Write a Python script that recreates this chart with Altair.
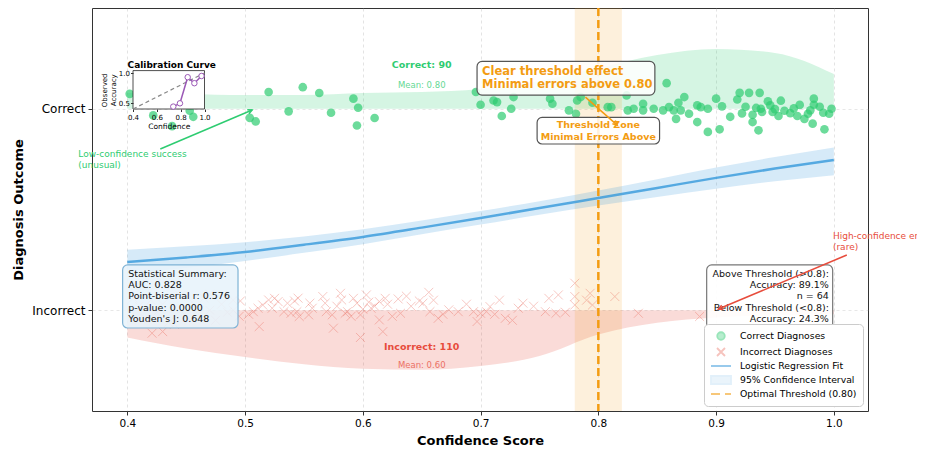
import altair as alt
import pandas as pd

# ---------------- data ----------------
correct_conf = [0.402, 0.422, 0.438, 0.453, 0.456, 0.504, 0.509, 0.520, 0.537, 0.549,
                0.563, 0.573, 0.592, 0.596, 0.595, 0.610, 0.696, 0.711, 0.714, 0.728,
                0.718, 0.726, 0.759, 0.761, 0.775, 0.782, 0.785, 0.781, 0.808, 0.811,
                0.824, 0.825, 0.830, 0.838, 0.838, 0.858, 0.855, 0.860, 0.864, 0.866,
                0.870, 0.873, 0.884, 0.887, 0.884, 0.893, 0.893, 0.900, 0.903, 0.918,
                0.920, 0.928, 0.937, 0.922, 0.931, 0.931, 0.936, 0.934, 0.938, 0.939,
                0.944, 0.946, 0.950, 0.948, 0.953, 0.958, 0.963, 0.966, 0.971, 0.969,
                0.978, 0.980, 0.983, 0.983, 0.982, 0.991, 0.992, 0.996, 0.847, 0.877,
                0.905, 0.912, 0.955, 0.975, 0.988, 0.998, 0.700, 0.795, 0.868, 0.925]
correct_jit = [1.074, 0.967, 0.914, 0.990, 0.960, 0.955, 0.937, 1.083, 0.987, 1.107,
               1.078, 0.980, 1.050, 1.005, 0.917, 0.954, 1.083, 1.041, 1.033, 1.058,
               0.964, 1.000, 1.050, 1.025, 0.992, 1.041, 1.058, 0.975, 1.008, 1.008,
               1.066, 0.992, 1.000, 1.025, 0.992, 1.127, 0.992, 1.008, 0.992, 0.950,
               0.992, 1.058, 1.017, 1.008, 0.934, 1.000, 0.885, 1.050, 0.898, 1.046,
               1.079, 1.079, 1.079, 0.977, 0.970, 0.934, 0.893, 1.004, 1.000, 0.984,
               1.037, 1.017, 0.998, 0.984, 0.964, 0.990, 0.978, 1.002, 1.019, 0.964,
               0.975, 0.992, 1.020, 1.050, 0.926, 0.980, 0.898, 0.975, 1.000, 0.975,
               1.012, 0.960, 1.040, 0.950, 1.010, 1.000, 1.020, 1.030, 1.030, 1.010]

incorrect_conf = [0.421, 0.430, 0.496, 0.503, 0.507, 0.511, 0.512, 0.515, 0.520, 0.525,
                  0.528, 0.533, 0.536, 0.542, 0.544, 0.546, 0.554, 0.555, 0.566, 0.568,
                  0.569, 0.574, 0.575, 0.581, 0.582, 0.585, 0.587, 0.592, 0.595, 0.598,
                  0.598, 0.603, 0.605, 0.607, 0.614, 0.617, 0.614, 0.619, 0.621, 0.630,
                  0.632, 0.648, 0.651, 0.656, 0.657, 0.664, 0.673, 0.681, 0.694, 0.697,
                  0.700, 0.705, 0.708, 0.721, 0.736, 0.732, 0.755, 0.764, 0.758, 0.766,
                  0.780, 0.780, 0.780, 0.793, 0.795, 0.814, 0.834, 0.886, 0.410, 0.415,
                  0.420, 0.425, 0.430, 0.435, 0.440, 0.445, 0.450, 0.455, 0.460, 0.465,
                  0.470, 0.475, 0.480, 0.485, 0.490, 0.495, 0.440, 0.470, 0.405, 0.490,
                  0.523, 0.539, 0.557, 0.578, 0.590, 0.610, 0.625, 0.641, 0.660, 0.668,
                  0.688, 0.712, 0.716, 0.745, 0.772, 0.790, 0.545, 0.600, 0.637, 0.727]
incorrect_jit = [-0.114, -0.106, 0.046, -0.020, -0.007, 0.010, -0.081, 0.026, 0.051, 0.059,
                 0.043, -0.007, 0.035, 0.046, -0.007, -0.031, -0.023, 0.035, 0.068, 0.035,
                 -0.007, -0.023, -0.089, 0.084, 0.051, -0.015, -0.007, 0.059, 0.035, -0.023,
                 -0.135, 0.076, 0.040, 0.010, -0.048, -0.106, 0.043, 0.059, 0.030, 0.056,
                 -0.015, 0.046, 0.035, 0.089, -0.007, -0.040, 0.002, -0.007, -0.007, -0.056,
                 -0.015, -0.007, 0.018, -0.040, 0.035, 0.010, -0.007, -0.015, 0.059, 0.076,
                 0.134, 0.068, 0.026, 0.084, 0.026, 0.068, -0.015, -0.031, 0.020, -0.040,
                 0.050, -0.010, 0.030, -0.060, 0.010, 0.070, -0.030, 0.040, -0.020, 0.060,
                 0.000, -0.050, 0.030, -0.010, 0.050, -0.030, -0.070, 0.080, 0.060, 0.000,
                 0.010, -0.015, 0.010, 0.020, -0.030, 0.020, -0.030, 0.020, 0.050, -0.020,
                 0.030, -0.020, 0.050, 0.020, -0.010, 0.050, 0.060, 0.005, 0.070, -0.050]

curve_conf = [0.40, 0.45, 0.50, 0.55, 0.60, 0.65, 0.70, 0.75, 0.80, 0.85, 0.90, 0.95, 1.00]
fit_prob = [0.239, 0.262, 0.289, 0.325, 0.364, 0.410, 0.458, 0.507, 0.557, 0.607, 0.657, 0.703, 0.746]
ci_lower = [0.180, 0.210, 0.245, 0.285, 0.328, 0.377, 0.425, 0.474, 0.520, 0.562, 0.603, 0.640, 0.670]
ci_upper = [0.300, 0.318, 0.338, 0.366, 0.402, 0.445, 0.492, 0.541, 0.594, 0.650, 0.708, 0.760, 0.808]
correct_density = [0.078, 0.073, 0.068, 0.068, 0.078, 0.083, 0.098, 0.138, 0.202, 0.267, 0.297, 0.277, 0.172]
incorrect_density = [0.135, 0.190, 0.232, 0.268, 0.290, 0.295, 0.277, 0.227, 0.120, 0.062, 0.036, 0.025, 0.020]

calib_conf = [0.738, 0.794, 0.859, 0.915, 0.975]
calib_acc = [0.44, 0.495, 0.93, 0.83, 0.95]

threshold = 0.80
threshold_zone = [0.78, 0.82]
x_ticks = [0.4, 0.5, 0.6, 0.7, 0.8, 0.9, 1.0]

legend_labels = ["Correct Diagnoses", "Incorrect Diagnoses", "Logistic Regression Fit",
                 "95% Confidence Interval", "Optimal Threshold (0.80)"]
stats_lines = ["Statistical Summary:", "AUC: 0.828", "Point-biserial r: 0.576",
               "p-value: 0.0000", "Youden's J: 0.648"]
threshold_lines = ["Above Threshold (>0.8):", "Accuracy: 89.1%", "n = 64", "",
                   "Below Threshold (<0.8):", "Accuracy: 24.3%", "n = 136"]

# ---------------- colours ----------------
GREEN = "#2ecc71"
RED = "#e74c3c"
BLUE = "#3498db"
ORANGE = "#f39c12"
PURPLE = "#9b59b6"
FONT = "DejaVu Sans"

W, H = 776, 403

xs = alt.Scale(domain=[0.37, 1.029], nice=False, zero=False)
ys = alt.Scale(domain=[-0.5, 1.5], nice=False, zero=False)

x_axis = alt.Axis(values=x_ticks, format=".1f", title="Confidence Score", titleFontSize=13,
                  titleFontWeight="bold", labelFontSize=10.5, grid=True, gridColor="#b0b0b0",
                  gridOpacity=0.35, gridDash=[3, 3], tickSize=4, domain=False,
                  labelFlush=False, titlePadding=6, labelPadding=3)
y_axis = alt.Axis(values=[0, 1], labelExpr="datum.value == 1 ? 'Correct' : 'Incorrect'",
                  title="Diagnosis Outcome", titleFontSize=13, titleFontWeight="bold",
                  labelFontSize=12, grid=True, gridColor="#b0b0b0", gridOpacity=0.3,
                  gridDash=[3, 3], tickSize=4, domain=False, titleX=-67, titleY=H / 2,
                  labelPadding=3)


def X(f):
    return alt.X(f, type="quantitative", scale=xs, axis=x_axis)


def Y(f):
    return alt.Y(f, type="quantitative", scale=ys, axis=y_axis)


# ---------------- tables ----------------
curve_df = pd.DataFrame({"conf": curve_conf, "p": fit_prob, "lo": ci_lower, "hi": ci_upper,
                         "cd": correct_density, "icd": incorrect_density})
correct_df = pd.DataFrame({"conf": correct_conf, "y": correct_jit})
incorrect_df = pd.DataFrame({"conf": incorrect_conf, "y": incorrect_jit})
thr_df = pd.DataFrame({"x0": [threshold_zone[0]], "x1": [threshold_zone[1]], "t": [threshold]})

green_area = alt.Chart(curve_df).transform_calculate(base="1", top="1 + datum.cd").mark_area(
    color=GREEN, opacity=0.2, interpolate="monotone").encode(x=X("conf"), y=Y("base:Q"), y2="top:Q")
red_area = alt.Chart(curve_df).transform_calculate(base="0", bot="-datum.icd").mark_area(
    color=RED, opacity=0.2, interpolate="monotone").encode(x=X("conf"), y=Y("bot:Q"), y2="base:Q")

band = alt.Chart(thr_df).mark_rect(color=ORANGE, opacity=0.15).encode(x=X("x0"), x2="x1")
ci = alt.Chart(curve_df).mark_area(color=BLUE, opacity=0.2, interpolate="monotone").encode(
    x=X("conf"), y=Y("lo"), y2="hi")
fit = alt.Chart(curve_df).mark_line(color=BLUE, strokeWidth=2.5, opacity=0.8,
                                    interpolate="monotone").encode(x=X("conf"), y=Y("p"))

X_PATH = "M-1,-1L1,1M-1,1L1,-1"
green_pts = alt.Chart(correct_df).mark_circle(color=GREEN, opacity=0.7, size=75).encode(
    x=X("conf"), y=Y("y"))
red_pts = alt.Chart(incorrect_df).mark_point(shape=X_PATH, filled=False, color=RED, opacity=0.3,
                                             size=80, strokeWidth=1).encode(x=X("conf"), y=Y("y"))

thr_rule = alt.Chart(thr_df).mark_rule(color=ORANGE, strokeWidth=2.5, strokeDash=[8, 4]).encode(
    x=X("t"))

# ---------------- annotations ----------------
boxes_stats = pd.DataFrame({"x0": [0.396], "x1": [0.494], "y0": [-0.088], "y1": [0.225]})
boxes_thr = pd.DataFrame({"x0": [0.892], "x1": [0.999], "y0": [-0.197], "y1": [0.225]})
boxes_clear = pd.DataFrame({"x0": [0.697], "x1": [0.848], "y0": [1.068], "y1": [1.235]})
boxes_zone = pd.DataFrame({"x0": [0.748], "x1": [0.852], "y0": [0.825], "y1": [0.957]})


def box(df, fill, stroke, op=0.9):
    return alt.Chart(df).mark_rect(fill=fill, stroke=stroke, strokeWidth=1.2, cornerRadius=5,
                                   fillOpacity=op).encode(x=X("x0"), x2="x1", y=Y("y0"), y2="y1")


def text(df, **kw):
    base = dict(font=FONT, lineBreak="\n")
    base.update(kw)
    return alt.Chart(df).mark_text(**base).encode(x=X("x"), y=Y("y"), text="t:N")


stats_box = box(boxes_stats, "#e8f3fb", "#7fb3d5")
stats_txt = text(pd.DataFrame({"x": [0.4008], "y": [0.207], "t": ["\n".join(stats_lines)]}),
                 align="left", baseline="top", fontSize=9.5, lineHeight=11.4, color="#111")
thr_box = box(boxes_thr, "white", "#777")
thr_txt = text(pd.DataFrame({"x": [0.9958], "y": [0.207], "t": ["\n".join(threshold_lines)]}),
               align="right", baseline="top", fontSize=9.5, lineHeight=11.4, color="#111")
clear_box = box(boxes_clear, "white", "#555", 0.85)
clear_txt = text(pd.DataFrame({"x": [0.7013], "y": [1.213],
                               "t": ["Clear threshold effect\nMinimal errors above 0.80"]}),
                 align="left", baseline="top", fontSize=11.5, fontWeight="bold",
                 lineHeight=13, color=ORANGE)
zone_box = box(boxes_zone, "white", "#555", 0.85)
zone_txt = text(pd.DataFrame({"x": [0.80], "y": [0.943],
                              "t": ["Threshold Zone\nMinimal Errors Above"]}),
                align="center", baseline="top", fontSize=9.5, fontWeight="bold",
                lineHeight=11.8, color=ORANGE)

count_df = pd.DataFrame({"x": [0.65, 0.65], "y": [1.217, -0.182],
                         "t": ["Correct: 90", "Incorrect: 110"], "c": [GREEN, RED]})
mean_df = pd.DataFrame({"x": [0.65, 0.65], "y": [1.118, -0.272],
                        "t": ["Mean: 0.80", "Mean: 0.60"], "c": [GREEN, RED]})
count_txt = alt.Chart(count_df).mark_text(font=FONT, fontSize=9.5, fontWeight="bold").encode(
    x=X("x"), y=Y("y"), text="t:N", color=alt.Color("c:N", scale=None))
mean_txt = alt.Chart(mean_df).mark_text(font=FONT, fontSize=8.5, opacity=0.75).encode(
    x=X("x"), y=Y("y"), text="t:N", color=alt.Color("c:N", scale=None))

low_txt = text(pd.DataFrame({"x": [0.3584], "y": [0.795], "t": ["Low-confidence success\n(unusual)"]}),
               align="left", baseline="top", fontSize=9, lineHeight=10.7, color=GREEN)
high_txt = text(pd.DataFrame({"x": [0.9992], "y": [0.388], "t": ["High-confidence error\n(rare)"]}),
                align="left", baseline="top", fontSize=9, lineHeight=10.7, color=RED)

arrows_df = pd.DataFrame({"x": [0.428, 1.011, 0.789], "y": [0.800, 0.274, 1.058],
                          "x2": [0.506, 0.902, 0.816], "y2": [0.994, 0.006, 0.919],
                          "c": [GREEN, RED, ORANGE], "ang": [67, 247, 131]})
arrow_lines = alt.Chart(arrows_df).mark_rule(strokeWidth=1.5).encode(
    x=X("x"), y=Y("y"), x2="x2", y2="y2", color=alt.Color("c:N", scale=None))
HEAD = "M-0.55,1.1L0,0L0.55,1.1"
arrow_heads = alt.Chart(arrows_df).mark_point(shape=HEAD, filled=False, size=64, strokeWidth=1.5,
                                              opacity=1).encode(
    x=X("x2"), y=Y("y2"), color=alt.Color("c:N", scale=None), angle=alt.Angle("ang:Q", scale=None))

# ---------------- legend (symbols only, marks clipped away) ----------------
legend_paths = [
    "M0.25,0A0.75,0.75 0 1,0 1.75,0A0.75,0.75 0 1,0 0.25,0Z",
    "M0.2,-0.8L1.8,0.8M0.2,0.8L1.8,-0.8",
    "M-1,0H3",
    "M-1,-0.8H3V0.8H-1Z",
    "M-1,0H0.8M1.8,0H3",
]
legend_fills = ["#6ddb9c", "#ffffff", "#5dade2", "#d6eaf8", "#f5b041"]
legend_strokes = ["#6ddb9c", "#f3aaa2", "#5dade2", "#d6eaf8", "#f5b041"]
leg = alt.Legend(title=None)
legend_layer = alt.Chart(pd.DataFrame({"label": legend_labels})).mark_point(clip=True).encode(
    x=alt.datum(-5), y=alt.datum(-5),
    shape=alt.Shape("label:N", scale=alt.Scale(domain=legend_labels, range=legend_paths), legend=leg),
    fill=alt.Fill("label:N", scale=alt.Scale(domain=legend_labels, range=legend_fills), legend=leg),
    stroke=alt.Stroke("label:N", scale=alt.Scale(domain=legend_labels, range=legend_strokes), legend=leg),
)

main = alt.layer(green_area, red_area, band, ci, fit, green_pts, red_pts, thr_rule,
                 stats_box, stats_txt, thr_box, thr_txt, count_txt, mean_txt,
                 clear_box, clear_txt, zone_box, zone_txt, arrow_lines, arrow_heads,
                 low_txt, high_txt, legend_layer)

# ---------------- inset calibration curve ----------------
ixs = alt.Scale(domain=[0.4, 1.0], range=[41, 112.5], nice=False, zero=False)
iys = alt.Scale(domain=[0.4, 1.04], range=[101, 62.6], nice=False, zero=False)
ix_axis = alt.Axis(orient="bottom", offset=-(H - 101), values=[0.4, 0.6, 0.8, 1.0], format=".1f",
                   title="Confidence", titleFontSize=7.5, titleFontWeight="normal", labelFontSize=7,
                   tickSize=2.5, labelPadding=1.5, titlePadding=2, domain=False, grid=False,
                   zindex=2, labelFlush=False)
iy_axis = alt.Axis(orient="left", offset=-41, values=[0.5, 1.0], format=".1f",
                   title=["Observed", "Accuracy"], titleFontSize=7, titleFontWeight="normal",
                   labelFontSize=7, tickSize=2.5, labelPadding=1, titlePadding=2, domain=False,
                   grid=False, zindex=2, labelFlush=False)


def IX(f):
    return alt.X(f, type="quantitative", scale=ixs, axis=ix_axis)


def IY(f):
    return alt.Y(f, type="quantitative", scale=iys, axis=iy_axis)


inset_frame = pd.DataFrame({"x0": [0.4], "x1": [1.0], "y0": [0.4], "y1": [1.04]})
diag_df = pd.DataFrame({"x": [0.4, 1.0], "y": [0.4, 1.0]})
calib_df = pd.DataFrame({"x": calib_conf, "y": calib_acc})

inset_bg = alt.Chart(inset_frame).mark_rect(fill="white", stroke="#222", strokeWidth=0.8).encode(
    x=IX("x0"), x2="x1", y=IY("y0"), y2="y1")
inset_diag = alt.Chart(diag_df).mark_line(color="#888", strokeDash=[4, 3], strokeWidth=1.2).encode(
    x=IX("x"), y=IY("y"))
inset_line = alt.Chart(calib_df).mark_line(color=PURPLE, strokeWidth=1.5).encode(x=IX("x"), y=IY("y"))
inset_pts = alt.Chart(calib_df).mark_point(filled=True, fill="white", stroke=PURPLE, size=30,
                                           strokeWidth=1, opacity=1).encode(x=IX("x"), y=IY("y"))
inset_title = alt.Chart(pd.DataFrame({"x": [0.7], "y": [1.04], "t": ["Calibration Curve"]})).mark_text(
    font=FONT, fontSize=9, fontWeight="bold", baseline="alphabetic", dy=-3, dx=3, color="#000").encode(
    x=IX("x"), y=IY("y"), text="t:N")

inset = alt.layer(inset_bg, inset_diag, inset_line, inset_pts, inset_title)

chart = alt.layer(main, inset).resolve_scale(x="independent", y="independent").properties(
    width=W, height=H, autosize=alt.AutoSizeParams(type="none"),
    padding={"left": 84, "top": 0, "right": 49, "bottom": 40},
    background="white",
).configure(font=FONT).configure_view(stroke="#333", strokeWidth=1).configure_axis(
    labelFont=FONT, titleFont=FONT, labelColor="#000", titleColor="#000", tickColor="#333",
).configure_legend(
    orient="bottom-right", offset=5, padding=6, fillColor="white", strokeColor="#cccccc",
    cornerRadius=4, labelFont=FONT, labelFontSize=9.3, labelColor="#000", symbolSize=100,
    symbolStrokeWidth=1.8, labelOffset=18, rowPadding=0,
)

chart.save("out.html", embed_options={"renderer": "svg", "actions": False})
